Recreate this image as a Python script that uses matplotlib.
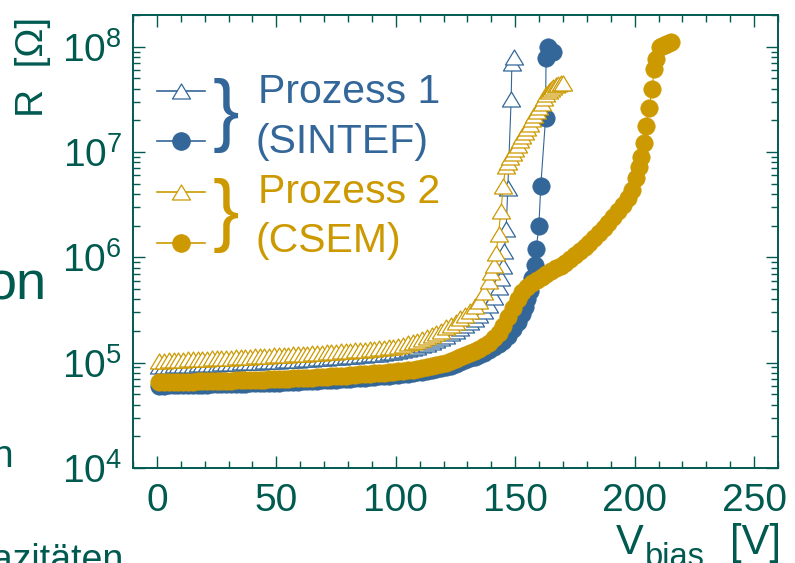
import numpy as np
import matplotlib
matplotlib.use('Agg')
import matplotlib.pyplot as plt
from matplotlib.path import Path
from matplotlib.ticker import MultipleLocator, LogLocator, NullFormatter

plt.rcParams['font.family'] = ['Liberation Sans', 'DejaVu Sans']
plt.rcParams['mathtext.fontset'] = 'custom'
plt.rcParams['mathtext.rm'] = 'Liberation Sans'
plt.rcParams['mathtext.it'] = 'Liberation Sans:italic'

teal = '#005a50'
blue = '#336699'
gold = '#cc9900'

# --- Prozess 2 (CSEM), filled circles: R in kOhm vs. V_bias
csem_circ_V = np.r_[np.arange(1, 200, 2),
                    [200.5, 201.7, 202.8, 203.8, 204.9, 206.0, 207.3, 208.1,
                     209.1, 210.5, 211.5, 212.5, 213.3, 214.5, 215.4]]
csem_circ_R = [65.2, 65.3, 65.5, 65.6, 65.8, 65.9, 66.1, 66.2, 66.4, 66.5,
               66.7, 66.8, 67.0, 67.1, 67.5, 67.6, 67.9, 68.1, 68.2, 68.5,
               68.7, 69.0, 69.2, 69.3, 69.7, 69.8, 70.1, 70.5, 70.8, 71.3,
               71.6, 71.9, 72.3, 72.8, 73.1, 73.5, 74.0, 74.5, 75.0, 75.5,
               76.0, 76.6, 77.3, 77.8, 78.5, 79.2, 79.8, 80.5, 81.3, 82.0,
               83.0, 83.9, 84.9, 86.1, 87.5, 88.9, 90.4, 92.3, 94.4, 97.0,
               100.0, 103.5, 107.6, 112.2, 117.5, 123.0, 128.8, 134.9, 144.5, 154.9,
               169.8, 190.5, 223.9, 269.2, 331.1, 398.1, 467.7, 524.8, 568.9, 609.5,
               645.7, 691.8, 741.3, 785.2, 831.8, 891.3, 966.1, 1047, 1148, 1259,
               1380, 1531, 1698, 1905, 2138, 2427, 2754, 3162, 3673, 4365,
               5623, 7244, 8913, 12300, 17780, 26060, 39810, 60810, 76910, 99310,
               102000, 104500, 107200, 109000, 110900]

# --- Prozess 1 (SINTEF), filled circles
sintef_circ_V = np.r_[np.arange(1, 154, 2),
                      [154, 155, 156, 157, 158.1, 158.8, 159.9, 160.7,
                       162.7, 162.9, 163.7, 165.8]]
sintef_circ_R = [60.6, 60.7, 60.8, 60.9, 61.1, 61.2, 61.4, 61.5, 61.7, 61.8,
                 62.0, 62.1, 62.2, 62.3, 62.7, 62.8, 63.1, 63.3, 63.4, 63.6,
                 63.8, 64.1, 64.3, 64.4, 64.7, 64.8, 65.1, 65.5, 65.8, 66.2,
                 66.5, 66.8, 67.2, 67.6, 67.9, 68.3, 68.7, 69.2, 69.7, 70.1,
                 70.6, 71.2, 71.8, 72.3, 72.9, 73.6, 74.1, 74.8, 75.5, 76.2,
                 77.1, 77.9, 78.9, 80.0, 81.3, 82.4, 83.5, 84.7, 86.5, 88.7,
                 91.2, 94.0, 97.3, 101.2, 105.2, 109.6, 114.3, 118.9, 123.9, 131.8,
                 139.6, 150.3, 162.2, 179.9, 208.9, 242.7, 288.4,
                 338.8, 398.1, 478.6, 631.0, 851.1, 1202, 1995, 4786,
                 20890, 77620, 100000, 89130]

# --- Prozess 2 (CSEM), open triangles
csem_tri_V = np.r_[np.arange(1, 138, 2), np.arange(139, 171)]
csem_tri_R = [104.2, 104.7, 105.2, 105.7, 106.2, 106.7, 107.2, 107.6, 108.1, 108.6,
              109.1, 109.6, 110.2, 110.7, 111.2, 111.7, 112.2, 112.7, 113.2, 114.0,
              114.6, 115.1, 115.6, 116.4, 117.0, 117.5, 118.3, 118.9, 119.7, 120.2,
              121.1, 121.6, 122.5, 123.3, 124.2, 125.0, 125.9, 126.8, 127.9, 128.8,
              129.4, 130.6, 131.8, 133.0, 134.3, 135.5, 136.8, 138.4, 140.3, 142.2,
              144.5, 147.9, 152.1, 156.7, 162.2, 167.9, 174.6, 182.0, 190.5, 201.8,
              216.3, 229.1, 245.5, 263.0, 285.1, 309.0, 342.8, 389.0, 467.7,
              602.6, 724.4, 851.1, 1096, 1660, 2754, 4786,
              7413, 8128, 8913, 9772, 10715, 11749, 12882, 14125, 15488, 16982,
              18621, 20417, 22387, 24547, 26915, 29512, 32359, 35481, 38019, 39811,
              41687, 43152, 44157, 45186, 45709]

# --- Prozess 1 (SINTEF), open triangles
sintef_tri_V = np.r_[np.arange(1, 142, 2),
                     [143, 144, 144.8, 145.5, 146.2, 146.9, 148.3, 148.6, 149.3]]
sintef_tri_R = [92.8, 93.3, 93.7, 94.2, 94.6, 95.1, 95.5, 95.9, 96.3, 96.8,
                97.2, 97.7, 98.2, 98.6, 99.1, 99.5, 100.0, 100.4, 100.9, 101.6,
                102.1, 102.6, 103.0, 103.7, 104.2, 104.7, 105.4, 105.9, 106.7, 107.1,
                107.9, 108.3, 109.1, 109.9, 110.7, 111.4, 112.2, 113.0, 114.0, 114.8,
                115.3, 116.4, 117.4, 118.5, 119.7, 120.7, 121.9, 123.3, 125.0, 126.7,
                128.7, 131.5, 134.6, 138.0, 142.2, 146.9, 151.7, 157.0, 163.3, 170.2,
                179.5, 190.5, 201.4, 213.3, 227.0, 243.2, 261.2, 281.8, 311.2, 349.9, 416.9,
                524.8, 631.0, 831.8, 1148, 1862, 4571, 31620, 70790, 79430]

W, H = 795, 563
fig = plt.figure(figsize=(W / 100, H / 100), dpi=100)
ax = fig.add_axes([133 / W, 95 / H, 645 / W, 453 / H])

# flatter triangle than the stock '^'
tri = Path([(0, 0.83), (-1, -0.83), (1, -0.83), (0, 0.83)], closed=True)

circ_kw = dict(marker='o', ms=12.5, mew=0.5, lw=0.8)
tri_kw = dict(marker=tri, ms=13, mew=0.9, mfc='white', lw=0.8)

ax.plot(sintef_circ_V, np.array(sintef_circ_R) * 1e3, color=blue, zorder=2, **circ_kw)
ax.plot(sintef_tri_V, np.array(sintef_tri_R) * 1e3, color=blue, zorder=3, **tri_kw)
ax.plot(csem_circ_V, np.array(csem_circ_R) * 1e3, color=gold, zorder=4, **circ_kw)
ax.plot(csem_tri_V, np.array(csem_tri_R) * 1e3, color=gold, zorder=5, **tri_kw)

ax.set_yscale('log')
ax.set_xlim(-10, 260)
ax.set_ylim(1e4, 2e8)
ax.xaxis.set_major_locator(MultipleLocator(50))
ax.xaxis.set_minor_locator(MultipleLocator(10))
ax.yaxis.set_major_locator(LogLocator(base=10, numticks=10))
ax.yaxis.set_minor_locator(LogLocator(base=10, subs=np.arange(2, 10), numticks=20))
ax.yaxis.set_minor_formatter(NullFormatter())

for s in ax.spines.values():
    s.set_color(teal)
    s.set_linewidth(1.4)
ax.tick_params(which='both', direction='in', top=True, right=True,
               color=teal, labelcolor=teal, labelsize=28)
ax.tick_params(which='major', length=8.5, width=1.0)
ax.tick_params(which='minor', length=5, width=1.0)
ax.tick_params(axis='x', pad=11)
ax.tick_params(axis='y', pad=8)

# legend keys (axes fraction from pixel positions)
def fx(px):
    return (px - 133) / 645

def fy(py):
    return (468 - py) / 453

keys = [(tri, blue, 'white', 91), ('o', blue, blue, 141),
        (tri, gold, 'white', 192), ('o', gold, gold, 242.5)]
for mk, col, face, py in keys:
    ms = 13 if mk is tri else 12.5
    ax.plot([fx(156.7), fx(180.7), fx(205)], [fy(py)] * 3, color=col, lw=1.2,
            marker=mk, ms=ms, mfc=face, mew=0.9, markevery=[1],
            transform=ax.transAxes, clip_on=False, zorder=6)

def ftext(x, y, s, **kw):
    fig.text(x / W, 1 - y / H, s, **kw)

ftext(226, 115.5, '}', fontsize=57, color=blue, ha='center', va='center')
ftext(226, 215.5, '}', fontsize=57, color=gold, ha='center', va='center')
ftext(258, 103.3, 'Prozess 1', fontsize=29.5, color=blue, va='baseline')
ftext(255.5, 153.3, '(SINTEF)', fontsize=29.5, color=blue, va='baseline')
ftext(258, 203.3, 'Prozess 2', fontsize=29.5, color=gold, va='baseline')
ftext(255.5, 251.7, '(CSEM)', fontsize=29.5, color=gold, va='baseline')

# axis titles
ftext(43, 67, 'R  [Ω]', fontsize=28, color=teal, rotation=90,
      rotation_mode='anchor', ha='center', va='baseline')
ftext(616, 554, 'V', fontsize=30, color=teal, ha='left', va='baseline')
ftext(644.5, 566, 'bias', fontsize=23.5, color=teal, ha='left', va='baseline')
ftext(730, 554, '[V]', fontsize=30, color=teal, ha='left', va='baseline')

# slide text running into the figure on the left
ftext(47, 300, 'on', fontsize=39, color=teal, ha='right', va='baseline')
ftext(12.5, 467, 'n', fontsize=28, color=teal, ha='right', va='baseline')
ftext(124, 571, 'Kapazitäten', fontsize=27, color=teal, ha='right', va='baseline')

fig.savefig('out.png', dpi=100)
